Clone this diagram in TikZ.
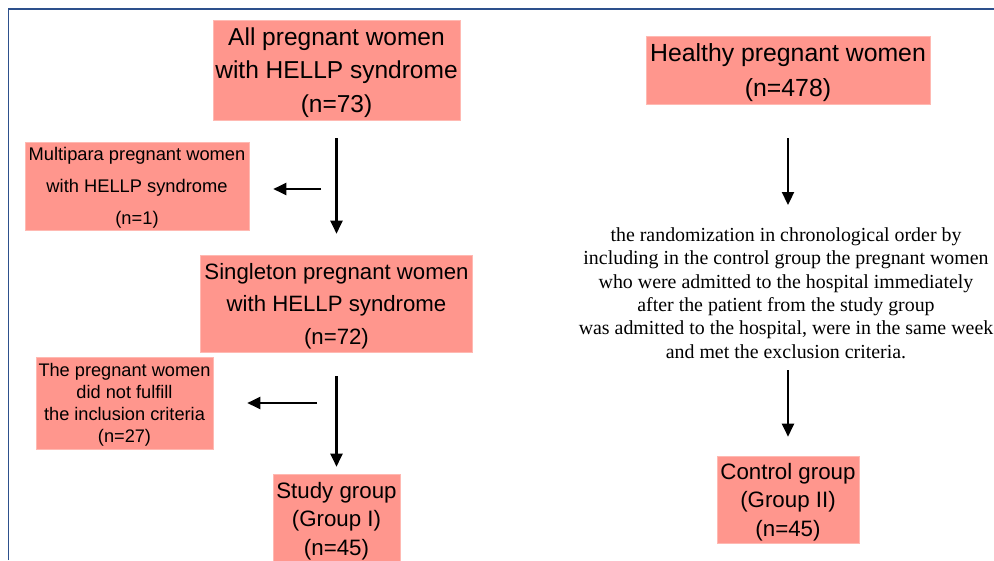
\documentclass[tikz,border=0pt]{standalone}
\usepackage{fontspec}
\setmainfont{Liberation Sans}
\newfontfamily\timesfont{Liberation Serif}
\usetikzlibrary{arrows.meta}
\definecolor{boxfill}{RGB}{255,150,141}
\definecolor{boxline}{RGB}{255,185,178}
\definecolor{frameblue}{RGB}{45,80,140}
\tikzset{
  box/.style={fill=boxfill, draw=boxline, line width=0.6pt, inner sep=0pt, align=center, anchor=center, text depth=0pt},
  arr/.style={line width=2.3pt, -{Triangle[length=13pt,width=12pt]}},
}
\begin{document}
\begin{tikzpicture}[x=1pt,y=-1pt]
\useasboundingbox (0,0) rectangle (994,560);
\fill[white] (0,0) rectangle (994,560);
% frame
\draw[frameblue, line width=1.2pt] (8.5,560) -- (8.5,9) -- (994,9);

% left column
\node[box, minimum width=247pt, minimum height=100pt, font=\fontsize{24.5}{33.5}\selectfont] (all) at (336.5,70) {All pregnant women\\with HELLP syndrome\\(n=73)};
\node[box, minimum width=224pt, minimum height=88pt, font=\fontsize{18.3}{32}\selectfont] (multi) at (137,186) {Multipara pregnant women\\with HELLP syndrome\\(n=1)};
\node[box, minimum width=272pt, minimum height=97pt, font=\fontsize{22.2}{32.5}\selectfont] (single) at (336.5,303.5) {Singleton pregnant women\\with HELLP syndrome\\(n=72)};
\node[box, minimum width=177pt, minimum height=92pt, font=\fontsize{18.2}{22}\selectfont] (incl) at (124.5,403) {The pregnant women\\did not fulfill\\the inclusion criteria\\(n=27)};
\node[box, minimum width=127pt, minimum height=89pt, font=\fontsize{22.3}{28.5}\selectfont] (study) at (336.5,518.5) {Study group\\(Group I)\\(n=45)};

% right column
\node[box, minimum width=284pt, minimum height=68pt, font=\fontsize{24.8}{35}\selectfont] (healthy) at (788,70) {Healthy pregnant women\\(n=478)};
\node[align=center, inner sep=0pt, font=\timesfont\fontsize{19.9}{23.3}\selectfont] (rand) at (786,293) {the randomization in chronological order by\\including in the control group the pregnant women\\who were admitted to the hospital immediately\\after the patient from the study group\\was admitted to the hospital, were in the same week\\and met the exclusion criteria.};
\node[box, minimum width=142pt, minimum height=87pt, font=\fontsize{22.3}{28.5}\selectfont] (control) at (788,499.5) {Control group\\(Group II)\\(n=45)};

% connectors
\coordinate (s1) at (321,189);
\coordinate (s2) at (317,403);
\coordinate (r1) at (788,205);
\coordinate (r2) at (788,370);
\draw[arr, shorten <=18pt, shorten >=21pt] (all.south) -- (single.north);
\draw[arr, shorten >=24pt] (s1) -- (s1 -| multi.east);
\draw[arr, shorten <=24pt, shorten >=7pt] (single.south) -- (study.north);
\draw[arr, shorten >=34pt] (s2) -- (s2 -| incl.east);
\draw[arr, shorten <=34pt] (healthy.south) -- (r1);
\draw[arr, shorten >=19pt] (r2) -- (control.north);
\end{tikzpicture}
\end{document}
